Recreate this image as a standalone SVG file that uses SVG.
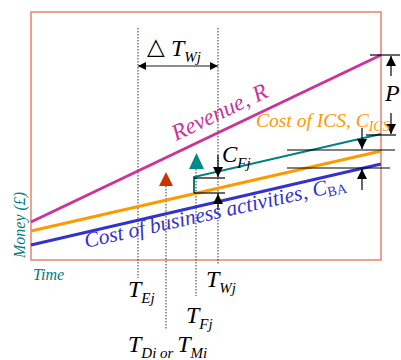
<svg xmlns="http://www.w3.org/2000/svg" width="401" height="360" viewBox="0 0 401 360">
<defs>
<marker id="ah" viewBox="0 0 10 10" refX="10" refY="5" markerWidth="10" markerHeight="10" markerUnits="userSpaceOnUse" orient="auto"><path d="M0,0 L10,5 L0,10 z" fill="#000"/></marker>
<marker id="ahs" viewBox="0 0 10 10" refX="10" refY="5" markerWidth="8" markerHeight="8" markerUnits="userSpaceOnUse" orient="auto-start-reverse"><path d="M0,0 L10,5 L0,10 z" fill="#000"/></marker>
</defs>
<style>
.t{font-family:"Liberation Serif","Times New Roman",serif;font-style:italic}
.dot{stroke:#333;stroke-width:1;stroke-dasharray:1.5 1.5;fill:none}
.ref{stroke:#000;stroke-width:1.2;fill:none}
.arr{stroke:#000;stroke-width:1.2;fill:none;marker-end:url(#ah)}
</style>
<rect width="401" height="360" fill="#fff"/>
<g id="frame"><rect x="31" y="12" width="350" height="248" fill="none" stroke="#E8826A" stroke-width="1.5"/></g>
<g id="connectors">
<line class="dot" x1="138" y1="28" x2="138" y2="278"/>
<line class="dot" x1="218" y1="28" x2="218" y2="264"/>
<line class="dot" x1="166" y1="186" x2="166" y2="330"/>
<line class="dot" x1="196" y1="169" x2="196" y2="296"/>
<line x1="138" y1="66" x2="218" y2="66" stroke="#666" stroke-width="1.5" marker-start="url(#ahs)" marker-end="url(#ahs)"/>
<line x1="31" y1="222" x2="381" y2="55" stroke="#CC3399" stroke-width="3"/>
<line x1="31" y1="231" x2="381" y2="151" stroke="#FF9900" stroke-width="3"/>
<line x1="31" y1="245" x2="381" y2="164" stroke="#3333CC" stroke-width="3"/>
<polyline points="194,193 194,177 381,134" fill="none" stroke="#008080" stroke-width="2"/>
<line class="ref" x1="370" y1="55" x2="400" y2="55"/>
<line class="ref" x1="366" y1="135" x2="396" y2="135"/>
<line class="ref" x1="287" y1="150" x2="395" y2="150"/>
<line class="ref" x1="287" y1="168" x2="390" y2="168"/>
<line class="ref" x1="194" y1="178" x2="225" y2="178"/>
<line class="ref" x1="194" y1="193" x2="225" y2="193"/>
<line class="arr" x1="391" y1="76" x2="391" y2="56"/>
<line class="arr" x1="391" y1="113" x2="391" y2="134"/>
<line class="arr" x1="362" y1="128" x2="362" y2="149"/>
<line class="arr" x1="362" y1="190" x2="362" y2="169"/>
<line class="arr" x1="218" y1="155" x2="218" y2="177"/>
<line class="arr" x1="218" y1="210" x2="218" y2="194"/>
</g>
<g id="triangles">
<polygon points="166,172 159,186 173,186" fill="#CC3300"/>
<polygon points="196.5,153 189,169 204,169" fill="#008B8B"/>
</g>
<g id="labels">
<text x="147" y="54" font-size="23" font-family="DejaVu Sans,sans-serif">△</text>
<text class="t" x="171" y="56" font-size="24">T<tspan font-size="15" dy="6">Wj</tspan></text>
<text class="t" x="176" y="141" font-size="23" fill="#CC3399" transform="rotate(-25.5 176 141)">Revenue, R</text>
<text class="t" x="256" y="127" font-size="19.5" fill="#FF9900">Cost of ICS, C<tspan font-size="14" dy="4">ICS</tspan></text>
<text class="t" x="385" y="101" font-size="24">P</text>
<text class="t" x="222" y="162" font-size="23">C<tspan font-size="15" dy="6">Fj</tspan></text>
<text class="t" x="86" y="248" font-size="21.5" fill="#3333CC" transform="rotate(-12.6 86 248)">Cost of business activities, C<tspan font-size="14" dy="3" font-style="normal">BA</tspan></text>
<text class="t" x="25" y="258" font-size="16" fill="#008080" transform="rotate(-90 25 258)">Money (£)</text>
<text class="t" x="33" y="280" font-size="16" fill="#008080">Time</text>
<text class="t" x="128" y="297" font-size="24">T<tspan font-size="15" dy="6">Ej</tspan></text>
<text class="t" x="206" y="287" font-size="24">T<tspan font-size="15" dy="6">Wj</tspan></text>
<text class="t" x="186" y="323" font-size="24">T<tspan font-size="15" dy="6">Fj</tspan></text>
<text class="t" x="128" y="352" font-size="24">T<tspan font-size="15" dy="6">Di or </tspan><tspan dy="-6">T</tspan><tspan font-size="15" dy="6">Mi</tspan></text>
</g>
</svg>
